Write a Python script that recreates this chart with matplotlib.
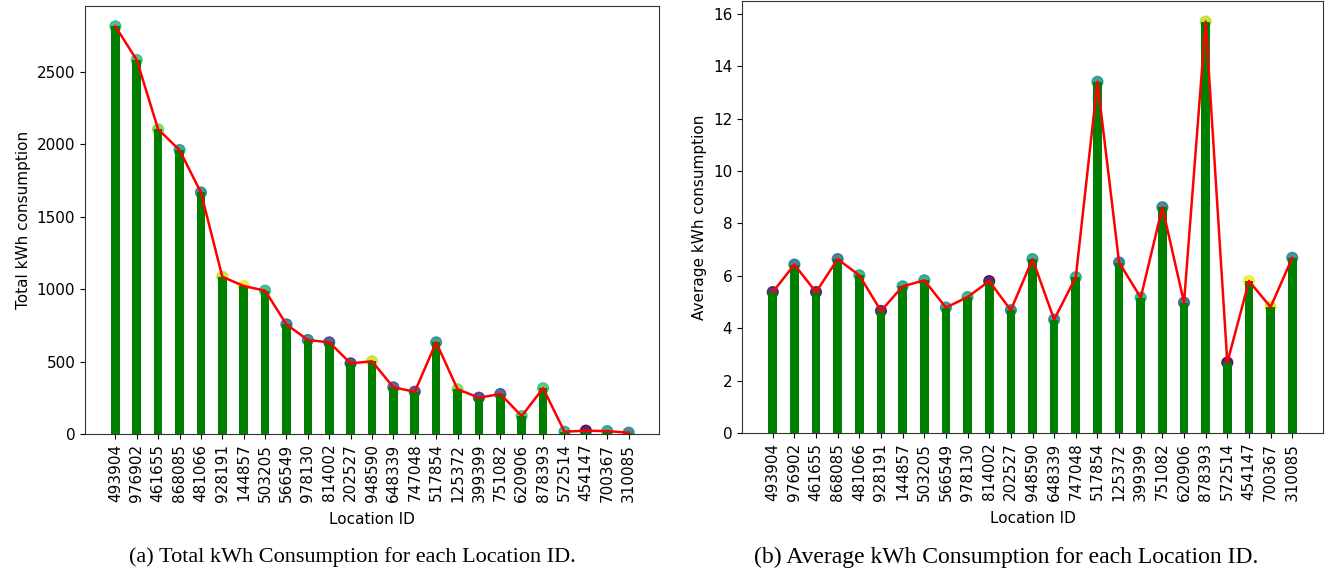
import matplotlib
matplotlib.use("Agg")
import matplotlib.pyplot as plt
import numpy as np

location_ids = ["493904", "976902", "461655", "868085", "481066", "928191",
                "144857", "503205", "566549", "978130", "814002", "202527",
                "948590", "648339", "747048", "517854", "125372", "399399",
                "751082", "620906", "878393", "572514", "454147", "700367",
                "310085"]

total_kwh = [2815, 2583, 2104, 1961, 1668, 1086, 1022, 990, 757, 649, 633,
             488, 502, 322, 292, 633, 309, 251, 276, 124, 316, 16, 23, 20, 9]

avg_kwh = [5.38, 6.43, 5.38, 6.64, 6.02, 4.66, 5.60, 5.83, 4.79, 5.19, 5.80,
           4.69, 6.64, 4.33, 5.95, 13.41, 6.51, 5.17, 8.62, 4.98, 15.71,
           2.69, 5.80, 4.81, 6.69]

# colour values (viridis) of the point markers
total_marker_c = [0.65, 0.68, 0.80, 0.55, 0.45, 0.90, 1.00, 0.65, 0.35, 0.40,
                  0.20, 0.15, 0.92, 0.25, 0.18, 0.50, 0.82, 0.15, 0.25, 0.70,
                  0.70, 0.60, 0.00, 0.55, 0.42]
avg_marker_c = [0.05, 0.35, 0.05, 0.35, 0.60, 0.05, 0.55, 0.55, 0.50, 0.60,
                0.00, 0.45, 0.55, 0.45, 0.60, 0.50, 0.35, 0.60, 0.40, 0.30,
                0.90, 0.00, 1.00, 0.95, 0.45]

W, H = 1330, 575
fig = plt.figure(figsize=(W / 100, H / 100), dpi=100)


def draw_panel(ax, values, cvals, ylabel):
    x = np.arange(len(location_ids))
    ax.scatter(x, values, c=cvals, cmap="viridis", vmin=0, vmax=1,
               s=60, alpha=0.85, zorder=1)
    ax.bar(x, values, width=0.4, color="green", zorder=2)
    ax.plot(x, values, color="red", linewidth=1.8, zorder=3)
    ax.set_xticks(x)
    ax.set_xticklabels(location_ids, rotation=90, fontsize=11)
    ax.tick_params(axis="y", labelsize=11)
    ax.set_xlabel("Location ID", fontsize=11, labelpad=7)
    ax.set_ylabel(ylabel, fontsize=11)
    for sp in ax.spines.values():
        sp.set_color("#333333")


ax1 = fig.add_axes([85 / W, (H - 434) / H, (659 - 85) / W, (434 - 6) / H])
draw_panel(ax1, total_kwh, total_marker_c, "Total kWh consumption")

ax2 = fig.add_axes([742 / W, (H - 433) / H, (1323 - 742) / W, (433 - 1) / H])
draw_panel(ax2, avg_kwh, avg_marker_c, "Average kWh consumption")

fig.text(352 / W, 1 - 557 / H, "(a) Total kWh Consumption for each Location ID.",
         family="Liberation Serif", fontsize=16, ha="center", va="center")
fig.text(1006 / W, 1 - 557 / H, "(b) Average kWh Consumption for each Location ID.",
         family="Liberation Serif", fontsize=17, ha="center", va="center")

fig.savefig("out.png", dpi=100)
